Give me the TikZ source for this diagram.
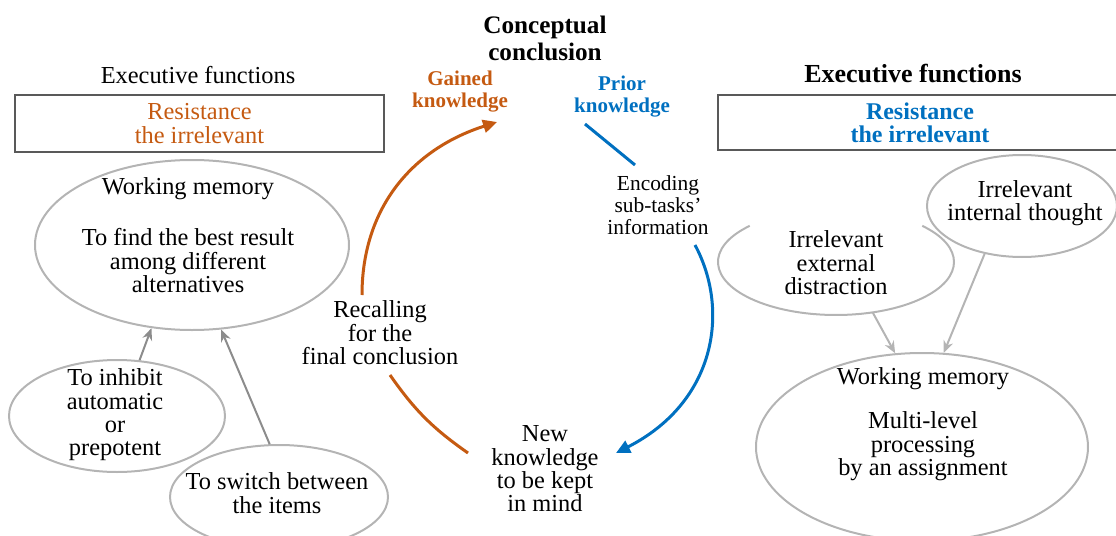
\documentclass[tikz,border=0pt]{standalone}
\usepackage{fontspec}
\setmainfont{Liberation Serif}
\usepackage{tikz}
\usetikzlibrary{calc}
\usetikzlibrary{positioning}
\usetikzlibrary{arrows.meta}
\usetikzlibrary{shapes.geometric}

\definecolor{gainorange}{HTML}{C55A11}
\definecolor{priorblue}{HTML}{0070C0}
\definecolor{ringgray}{HTML}{B4B4B4}
\definecolor{boxgray}{HTML}{595959}

\begin{document}
\begin{tikzpicture}[x=0.5pt,y=-0.5pt,
  every node/.style={align=center,inner sep=0pt,font=\fontsize{12.2}{11.7}\selectfont},
  bubble/.style={ellipse,draw=ringgray,line width=1pt},
  framebox/.style={rectangle,draw=boxgray,line width=1.2pt},
  small/.style={font=\fontsize{10.7}{11}\selectfont},
  tag/.style={font=\fontsize{10.5}{11}\selectfont\bfseries},
  head/.style={font=\fontsize{12.6}{13.5}\selectfont\bfseries},
  pull/.style={draw=gray!90,line width=1pt,-{Stealth[length=6pt,width=5pt]}},
  gain/.style={draw=gainorange,line width=1.5pt},
  prior/.style={draw=priorblue,line width=1.5pt}]
\useasboundingbox (0,0) rectangle (1116,536);
\clip (0,0) rectangle (1116,536);

% centre of the cycle
\node[head] (concl) at (545,38) {Conceptual\\conclusion};
\node[tag,text=gainorange] (gained) at (460,92) {Gained\\knowledge};
\node[tag,text=priorblue] (prior) at (622,97) {Prior\\knowledge};
\node[small] (encode) at (658,205) {Encoding\\sub-tasks'\\information};
\node (recall) at (380,333) {Recalling\\for the\\final conclusion};
\node (newk) at (545,469) {New\\knowledge\\to be kept\\in mind};

\coordinate (recallTop) at (362,295);
\coordinate (gainTip) at (497,122);
\coordinate (recallLow) at (390,375);
\coordinate (newTop) at (468,453);
\coordinate (priorLow) at (585,124);
\coordinate (encodeTop) at (635,165);
\coordinate (encodeLow) at (695,245);
\coordinate (newTip) at (616,453);

\draw[gain,-{Triangle[length=7pt,width=6.5pt]}] (recallTop) .. controls (362,210) and (410,150) .. (gainTip);
\draw[gain] (recallLow) to[bend right=10] (newTop);
\draw[prior] (priorLow) -- (encodeTop);
\draw[prior,-{Triangle[length=7pt,width=6.5pt]}] (encodeLow) .. controls (730,310) and (716,402) .. (newTip);

% left side
\node (execL) at (198,75) {Executive functions};
\node[framebox,minimum width=184.5pt,minimum height=28.5pt,text=gainorange] (resL) at (199.5,123.5) {Resistance\\the irrelevant};
\node[bubble,minimum width=157pt,minimum height=85pt] (wmL) at (192,245) {};
\node (wmLtext) at (188,235) {Working memory\\[14pt]To find the best result\\among different\\alternatives};
\node[bubble,minimum width=108pt,minimum height=56pt] (inhibit) at (117,416) {};
\node (inhibitText) at (115,415) {To inhibit\\automatic\\or\\prepotent};
\node[bubble,minimum width=109pt,minimum height=52pt] (switch) at (279,497) {};
\node (switchText) at (277,493) {To switch between\\the items};

\draw[pull] (inhibit.68) -- (wmL.244);
\draw[pull] (switch.100) -- (wmL.289);

% right side
\node[font=\fontsize{13}{14}\selectfont\bfseries] (execR) at (913,74) {Executive functions};
\node[framebox,minimum width=202pt,minimum height=27.5pt,text=priorblue,font=\fontsize{12}{11.7}\selectfont\bfseries] (resR) at (920,122.5) {Resistance\\the irrelevant};
\node[bubble,minimum width=95pt,minimum height=51pt] (internal) at (1022,206) {};
\node (internalText) at (1025,203) {Irrelevant\\internal thought};
\node[ellipse,minimum width=118pt,minimum height=53pt] (ext) at (836,262) {};
\draw[draw=ringgray,line width=1pt] ([shift={(137:59pt and 26.5pt)}]ext.center)
  arc[start angle=137,end angle=403,x radius=59pt,y radius=26.5pt];
\node (extText) at (836,263) {Irrelevant\\external\\distraction};
\node[bubble,minimum width=166pt,minimum height=94pt] (wmR) at (922,447) {};
\node (wmRtext) at (923,424) {Working memory\\[10.5pt]Multi-level\\processing\\by an assignment};

\draw[pull,draw=ringgray] (ext.306) -- (wmR.106);
\draw[pull,draw=ringgray] (internal.232) -- (wmR.77);
\end{tikzpicture}
\end{document}
